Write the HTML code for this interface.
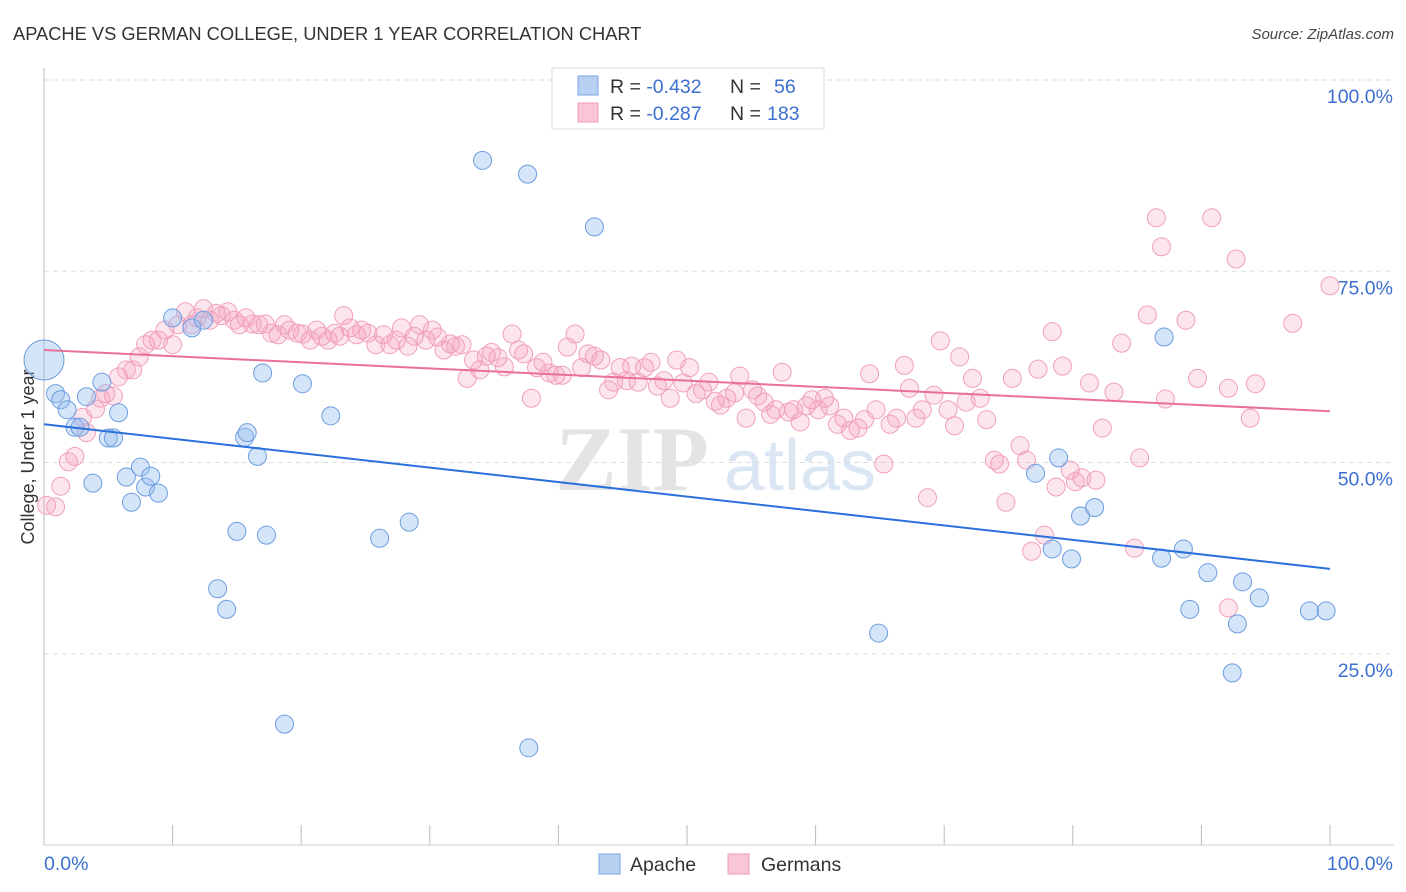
<!DOCTYPE html>
<html><head><meta charset="utf-8"><style>
body{margin:0;background:#fff;font-family:"Liberation Sans",sans-serif}
svg{display:block}
</style></head><body>
<svg id="chart" width="1406" height="892" viewBox="0 0 1406 892">
<text x="13" y="40" font-size="18.3" fill="#333">APACHE VS GERMAN COLLEGE, UNDER 1 YEAR CORRELATION CHART</text>
<text x="1394" y="39" font-size="15" fill="#444" font-style="italic" text-anchor="end">Source: ZipAtlas.com</text>
<g>
<text x="632" y="490" font-size="92" fill="#e4e4e4" font-family="Liberation Serif,serif" text-anchor="middle" font-weight="bold">ZIP</text>
<text x="800" y="490" font-size="72" fill="#dbe6f5" text-anchor="middle">atlas</text>
</g>
<g id="grid"></g>
<g id="axes"></g>
<text x="28" y="457" font-size="18" fill="#333" text-anchor="middle" transform="rotate(-90 28 457)" dy="6">College, Under 1 year</text>
<g id="pts"></g>
<g id="lines"></g>
<g>
<rect x="552" y="68" width="272" height="61" fill="#fff" stroke="#ddd"/>
<rect x="578" y="76" width="20" height="19" fill="#b8d1f3" stroke="#7aa6e0"/>
<rect x="578" y="103" width="20" height="19" fill="#f8c6d5" stroke="#ef9ab8"/>
<text x="610" y="93" font-size="19.5" fill="#333">R = <tspan fill="#3b6fd1">-0.432</tspan><tspan x="730">N = </tspan><tspan x="774" fill="#3b6fd1">56</tspan></text>
<text x="610" y="120" font-size="19.5" fill="#333">R = <tspan fill="#3b6fd1">-0.287</tspan><tspan x="730">N = </tspan><tspan x="767" fill="#3b6fd1">183</tspan></text>
</g>
<g>
<rect x="599" y="854" width="21" height="20" fill="#b8d1f3" stroke="#7aa6e0"/>
<text x="630" y="871" font-size="19.5" fill="#333">Apache</text>
<rect x="728" y="854" width="21" height="20" fill="#f8c6d5" stroke="#ef9ab8"/>
<text x="761" y="871" font-size="19.5" fill="#333">Germans</text>
</g>
</svg>
<script>
const blueX=[0,0.9,1.3,1.8,2.4,2.8,3.3,3.8,4.5,5.0,5.4,5.8,6.4,6.8,7.5,7.9,8.3,8.9,10.0,11.5,12.4,13.5,14.2,15.0,15.6,15.8,16.6,17.0,17.3,18.7,20.1,22.3,26.1,28.4,34.1,37.6,37.7,42.8,64.9,77.1,78.4,78.9,80.6,81.7,79.9,86.9,87.1,88.6,89.1,90.5,92.8,93.2,94.5,92.4,98.4,99.7];
const blueY=[63.4,59.0,58.2,56.9,54.6,54.6,58.6,47.3,60.5,53.2,53.2,56.5,48.1,44.8,49.4,46.8,48.2,46.0,68.9,67.6,68.6,33.5,30.8,41.0,53.3,53.9,50.8,61.7,40.5,15.8,60.3,56.1,40.1,42.2,89.5,87.7,12.7,80.8,27.7,48.6,38.7,50.6,43.0,44.1,37.4,37.5,66.4,38.7,30.8,35.6,28.9,34.4,32.3,22.5,30.6,30.6];
const pinkX=[0.2,0.9,1.3,1.9,2.4,3.0,3.3,4.0,4.4,4.8,5.4,5.8,6.4,6.9,7.4,7.9,8.4,8.9,9.4,10.0,10.4,11.0,11.5,11.9,12.4,12.9,13.4,13.8,14.3,14.8,15.2,15.7,16.2,16.7,17.2,17.7,18.2,18.7,19.1,19.7,20.1,20.7,21.2,21.6,22.1,22.6,23.0,23.3,23.8,24.3,24.7,25.2,25.8,26.4,26.9,27.4,27.8,28.3,28.8,29.2,29.7,30.2,30.6,31.1,31.6,32.0,32.5,32.9,33.4,33.9,34.4,34.8,35.3,35.8,36.4,36.9,37.3,37.9,38.3,38.8,39.3,39.8,40.3,40.7,41.3,41.8,42.3,42.8,43.3,43.9,44.3,44.8,45.3,45.7,46.2,46.7,47.2,47.7,48.2,48.7,49.2,49.7,50.2,50.7,51.2,51.7,52.2,52.6,53.1,53.7,54.1,54.6,55.1,55.5,56.0,56.5,56.9,57.4,57.9,58.3,58.8,59.3,59.7,60.2,60.7,61.1,61.7,62.2,62.7,63.3,63.8,64.2,64.7,65.3,65.8,66.3,66.9,67.3,67.8,68.3,68.7,69.2,69.7,70.3,70.8,71.2,71.7,72.2,72.8,73.3,73.9,74.3,74.8,75.3,75.9,76.4,76.8,77.3,77.8,78.4,78.7,79.2,79.8,80.2,80.7,81.3,81.8,82.3,83.2,83.8,84.8,85.2,85.8,86.5,86.9,87.2,88.8,89.7,90.8,92.1,92.7,92.1,93.8,94.2,97.1,100.0];
const pinkY=[44.4,44.2,46.9,50.1,50.8,55.9,53.9,57.0,58.4,59.0,58.7,61.2,62.1,62.1,63.8,65.4,66.0,66.0,67.3,65.4,68.0,69.7,68.0,68.9,70.1,68.6,69.5,69.2,69.7,68.6,68.0,68.9,68.1,68.0,68.1,66.9,66.7,68.0,67.3,66.9,66.8,66.0,67.3,66.5,66.0,66.9,66.5,69.2,67.6,66.7,67.3,66.9,65.4,66.7,65.4,66.0,67.6,65.2,66.5,68.0,66.0,67.3,66.4,64.7,65.5,65.2,65.4,61.0,63.4,62.1,63.9,64.4,63.7,62.5,66.8,64.7,64.2,58.4,62.4,63.1,61.7,61.4,61.4,65.1,66.8,62.4,64.2,63.9,63.4,59.5,60.5,62.4,60.7,62.6,60.5,62.4,63.1,60.0,60.7,58.4,63.4,60.4,62.4,59.0,59.5,60.5,58.0,57.5,58.4,59.1,61.3,55.8,59.5,58.7,57.9,56.3,56.9,61.8,56.6,56.9,55.3,57.4,58.2,56.9,58.4,57.4,55.0,55.8,54.2,54.5,55.6,61.6,56.9,49.8,55.0,55.8,62.7,59.7,55.8,56.9,45.4,58.8,65.9,56.9,54.8,63.8,57.9,61.0,58.4,55.6,50.3,49.8,44.8,61.0,52.2,50.3,38.4,62.2,40.5,67.1,46.8,62.6,49.0,47.5,48.0,60.4,47.7,54.5,59.2,65.6,38.8,50.6,69.3,82.0,78.2,58.3,68.6,61.0,82.0,59.7,76.6,31.0,55.8,60.3,68.2,73.1];
const blueTrend=[55.0,36.1];
const pinkTrend=[64.7,56.7];
const yTicks=[100,75,50,25];
const yTickLabels=["100.0%","75.0%","50.0%","25.0%"];
const xTicks=[0,10,20,30,40,50,60,70,80,90,100];
const xEndLabels=["0.0%","100.0%"];

const NS="http://www.w3.org/2000/svg";
const X0=44,X1=1330,Y100=80,Y0=845;
function sx(v){return X0+(X1-X0)*v/100;}
function sy(v){return Y0-(Y0-Y100)*v/100;}
function mk(tag,attrs,parent){const e=document.createElementNS(NS,tag);for(const k in attrs)e.setAttribute(k,attrs[k]);parent.appendChild(e);return e;}
const grid=document.getElementById('grid'),axes=document.getElementById('axes');
yTicks.forEach((t,i)=>{
  const l=mk('line',{x1:X0,x2:1394,y1:sy(t),y2:sy(t),stroke:'#ddd','stroke-dasharray':'5,4'},grid);
  
  
  const tx=mk('text',{x:1393,y:sy(t)+23,'font-size':19.5,fill:'#3b6fd1','text-anchor':'end'},axes);
  tx.textContent=yTickLabels[i];
  
  
});
const yl=mk('line',{x1:X0,x2:X0,y1:68,y2:Y0,stroke:'#bbb'},axes);


const xl=mk('line',{x1:X0,x2:1394,y1:Y0,y2:Y0,stroke:'#ccc'},axes);


xTicks.forEach(t=>{
  const l=mk('line',{x1:sx(t),x2:sx(t),y1:825,y2:Y0,stroke:'#bbb'},axes);
  
  
});
const xa=mk('text',{x:44,y:870,'font-size':19.5,fill:'#3b6fd1'},axes);xa.textContent=xEndLabels[0];


const xb=mk('text',{x:1393,y:870,'font-size':19.5,fill:'#3b6fd1','text-anchor':'end'},axes);xb.textContent=xEndLabels[1];


const pts=document.getElementById('pts');
pinkX.forEach((v,i)=>{
  const c=mk('circle',{cx:sx(v),cy:sy(pinkY[i]),r:9,fill:'rgba(245,160,190,0.28)',stroke:'#f0a0bc','stroke-width':1},pts);
  
  
});
blueX.forEach((v,i)=>{
  const c=mk('circle',{cx:sx(v),cy:sy(blueY[i]),r:i===0?20:9,fill:'rgba(150,190,240,0.4)',stroke:'#6c9de0','stroke-width':1},pts);
  
  
});
const lines=document.getElementById('lines');
const bl=mk('line',{x1:sx(0),y1:sy(blueTrend[0]),x2:sx(100),y2:sy(blueTrend[1]),stroke:'#2a6fdb','stroke-width':2},lines);


const pl=mk('line',{x1:sx(0),y1:sy(pinkTrend[0]),x2:sx(100),y2:sy(pinkTrend[1]),stroke:'#e8709a','stroke-width':2},lines);


</script>
</body></html>
